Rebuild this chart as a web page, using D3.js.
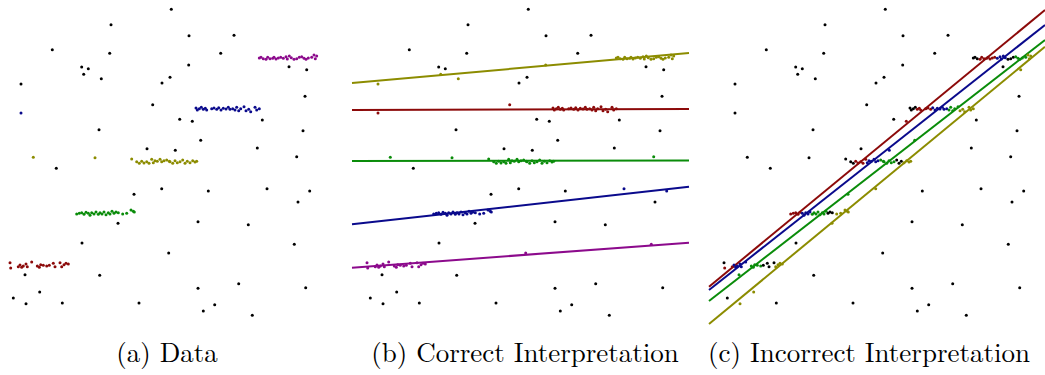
<!DOCTYPE html>
<html>
<head>
<meta charset="utf-8">
<script src="https://cdn.jsdelivr.net/npm/d3@7"></script>
<style>
  body { margin: 0; background: #fff; }
  svg { display: block; }
</style>
</head>
<body>
<svg id="fig" width="1045" height="375"></svg>
<script>
// colour codes: k black, r red, b blue, g green, o olive, p purple
const colors = { k: "#000", r: "#8c0a0a", b: "#0a0a8c", g: "#0a8c0a", o: "#8c8c00", p: "#8c0a8c" };

const captions = ["(a) Data", "(b) Correct Interpretation", "(c) Incorrect Interpretation"];
const captionCenters = [167, 525, 869];

// isolated points: [x, y, colour in (a), (b), (c)]
const outliers = [
  [111, 24.7, "k", "k", "k"], [52.3, 49.7, "k", "k", "k"], [109.7, 53.3, "k", "k", "k"],
  [81.7, 67, "k", "k", "k"], [88.3, 68.7, "k", "k", "k"], [83.7, 74.3, "k", "o", "k"],
  [101.3, 78.7, "k", "o", "k"], [21, 84, "k", "o", "k"], [162, 83, "k", "k", "k"],
  [170, 77.3, "k", "k", "k"], [152.7, 104.7, "k", "r", "k"], [21, 113, "b", "r", "k"],
  [99, 129.7, "k", "k", "k"], [147, 148.7, "k", "k", "k"], [33.3, 157.3, "o", "g", "k"],
  [95, 157.7, "o", "g", "k"], [56.3, 168.3, "k", "k", "k"], [171.3, 9.3, "k", "k", "k"],
  [189, 35.7, "k", "k", "k"], [234, 35.3, "k", "k", "k"], [220.7, 53.3, "k", "k", "k"],
  [188.7, 65, "k", "o", "k"], [289, 66.7, "k", "k", "k"], [306.7, 69.7, "k", "k", "o"],
  [305, 96.3, "k", "k", "k"], [179.7, 119.3, "k", "k", "k"], [192.3, 121.3, "k", "k", "r"],
  [262.3, 120, "k", "k", "k"], [303, 130.7, "k", "k", "k"], [200.7, 140.3, "k", "k", "g"],
  [175.3, 150.3, "k", "k", "b"], [257.3, 148, "k", "k", "k"], [296.7, 156.7, "k", "g", "k"],
  [134, 194.3, "k", "k", "g"], [161.7, 188.7, "k", "k", "o"], [118, 223.3, "k", "k", "o"],
  [82, 243, "k", "k", "k"], [168.7, 253, "k", "p", "k"], [25, 274.7, "k", "k", "g"],
  [99.7, 275.3, "k", "k", "k"], [39.7, 292, "k", "k", "o"], [13.3, 298, "k", "k", "k"],
  [26, 303.7, "k", "k", "o"], [62.3, 303, "k", "k", "k"], [139, 303, "k", "k", "k"],
  [208.3, 191, "k", "k", "k"], [267, 188.7, "k", "b", "k"], [309.7, 191, "k", "b", "k"],
  [298, 202, "k", "k", "k"], [198, 221.7, "k", "k", "k"], [248.3, 224.7, "k", "k", "k"],
  [294.3, 244.3, "k", "p", "k"], [198, 288.3, "k", "k", "k"], [238.7, 283.7, "k", "k", "k"],
  [305.7, 287.7, "k", "k", "k"], [214.7, 304.7, "k", "k", "k"], [203.3, 311, "k", "k", "k"],
  [252.3, 315.3, "k", "k", "k"]
];

// clusters (points in x, y)
const clusterTop = [[259.3,58],[261,57.3],[263.3,58.7],[266,59.3],[267.7,57.3],[270,58.7],[272.7,58.3],[274,57.3],[276,59],[278.3,58],[280.7,57.3],[283.3,58.3],[286,56.7],[287.3,59],[289.3,56],[291.3,57.7],[294,59.3],[296.7,58.7],[299.3,57.3],[301.7,56.7],[304,58.3],[306,59.3],[308.3,58],[311.7,57.3],[314,55],[315.3,58.7],[316.7,56]];
const clusterUpper = [[196,108],[197.3,110],[199.3,108.7],[201.3,107.3],[203.3,109.3],[205.3,108.3],[206.7,110],[211.7,108.7],[214,108],[216.7,109.3],[218.7,107.7],[221,110],[223.3,108.3],[226,109],[228.3,107.3],[230,109.3],[232.7,108.7],[235,110],[236.7,107.3],[238.7,110.7],[240.7,108.7],[244,106.7],[246,110.7],[248.7,109.3],[250.7,111.7],[255,107.3],[256.7,110],[259.3,108.7]];
const clusterMiddle = [[131.7,159],[136.7,161.7],[139.3,163.3],[141.7,161.3],[144,163],[146.7,161.7],[149,163.3],[151.7,159.3],[153.3,162.7],[155,160.7],[157.3,161.3],[160,159.3],[161.7,161.7],[164,160.7],[166.7,160],[169.3,161.3],[170,161.7],[172.7,163.3],[175,160.7],[177.3,162.7],[180,161.7],[182.7,160],[185,163.3],[187.3,161.3],[190,162.7],[192.7,160.7],[195,162],[196.7,161.3]];
const clusterLower = [[76.7,214],[79.3,213.3],[81.7,212.7],[84,214.3],[86,212.3],[88.3,213.3],[90,215.3],[91.7,212.7],[94,214],[96,212],[98.3,214.3],[100,212.7],[102,214],[104,212],[106,214.7],[108.3,212.7],[110,214],[112,211.3],[114,213.3],[116,212],[118.3,212.7],[122.7,214],[126.7,213.3],[131,210],[133.3,211.3],[134.3,212]];
const clusterBottom = [[10,262.7],[10.7,268],[18.3,266.7],[20,265],[21.7,267.3],[23.3,266],[26,264],[27.3,266.7],[31.7,262],[37.3,266],[39.3,267.3],[40.7,264.7],[43.3,265.3],[46.7,266],[49.3,265.3],[53.3,263.3],[55,266.7],[60,262.7],[61.7,266.7],[64,264.7],[66,263.3],[68.3,264]];

// colour of each cluster in (a) and (b); in (c) by x segments [x0, x1, colour]
const clusterColorsA = ["p", "b", "o", "g", "r"];
const clusterColorsB = ["o", "r", "g", "b", "p"];
const clusterSegmentsC = [
  [[0, 265, "k"], [265, 281, "r"], [281, 294, "b"], [294, 300, "k"], [300, 313, "g"], [313, 340, "o"]],
  [[0, 202, "k"], [202, 218, "r"], [218, 234, "b"], [234, 246, "g"], [246, 340, "o"]],
  [[0, 141, "k"], [141, 153, "r"], [153, 166, "b"], [166, 181, "g"], [181, 187.5, "k"], [187.5, 340, "o"]],
  [[0, 87, "r"], [87, 97.5, "b"], [97.5, 114, "g"], [114, 120, "k"], [120, 340, "o"]],
  [[0, 10.5, "k"], [10.5, 19, "r"], [19, 34, "b"], [34, 49, "g"], [49, 60.5, "k"], [60.5, 340, "o"]]
];
const clusters = [clusterTop, clusterUpper, clusterMiddle, clusterLower, clusterBottom];

// fitted lines [x0, y0, x1, y1, colour]
const linesB = [
  [-5, 83, 332, 53, "o"], [-5, 110, 332, 109, "r"], [-5, 161, 332, 160.5, "g"],
  [-5, 224.3, 332, 186.7, "b"], [-5, 267.7, 332, 242.7, "p"]
];
const linesC = [
  [-5, 286.7, 331, 10, "r"], [-5, 290, 331, 25, "b"], [-5, 301, 331, 40, "g"], [-5, 324, 331, 46.7, "o"]
];

const panelOffsets = [0, 357, 714];
const svg = d3.select("#fig");
const y = d3.scaleLinear().domain([0, 375]).range([0, 375]);

// caption font size: fit the widest caption to its width in the reference
const probe = svg.append("text")
  .attr("font-family", "'Latin Modern Roman', 'CMU Serif', 'DejaVu Serif', serif")
  .attr("font-size", 22).text(captions[2]);
const captionSize = 22 * 322 / probe.node().getComputedTextLength();
probe.remove();

panelOffsets.forEach((off, p) => {
  const x = d3.scaleLinear().domain([-5, 332]).range([off - 5, off + 332]);
  const g = svg.append("g");

  const lines = p === 1 ? linesB : p === 2 ? linesC : [];
  g.selectAll("line").data(lines).join("line")
    .attr("x1", d => x(d[0])).attr("y1", d => y(d[1]))
    .attr("x2", d => x(d[2])).attr("y2", d => y(d[3]))
    .attr("stroke", d => colors[d[4]])
    .attr("stroke-width", 2);

  g.selectAll("circle.out").data(outliers).join("circle")
    .attr("class", "out")
    .attr("cx", d => x(d[0])).attr("cy", d => y(d[1]))
    .attr("r", 1.5)
    .attr("fill", d => colors[d[2 + p]]);

  clusters.forEach((pts, ci) => {
    g.selectAll(null).data(pts).join("circle")
      .attr("cx", d => x(d[0])).attr("cy", d => y(d[1]))
      .attr("r", 1.5)
      .attr("fill", d => {
        if (p === 0) return colors[clusterColorsA[ci]];
        if (p === 1) return colors[clusterColorsB[ci]];
        const seg = clusterSegmentsC[ci].find(s => d[0] >= s[0] && d[0] < s[1]);
        return colors[seg ? seg[2] : "k"];
      });
  });

  svg.append("text")
    .attr("x", captionCenters[p])
    .attr("y", 362)
    .attr("text-anchor", "middle")
    .attr("font-family", "'Latin Modern Roman', 'CMU Serif', 'DejaVu Serif', serif")
    .attr("font-size", captionSize)
    .attr("fill", "#000")
    .text(captions[p]);
});
</script>
</body>
</html>
